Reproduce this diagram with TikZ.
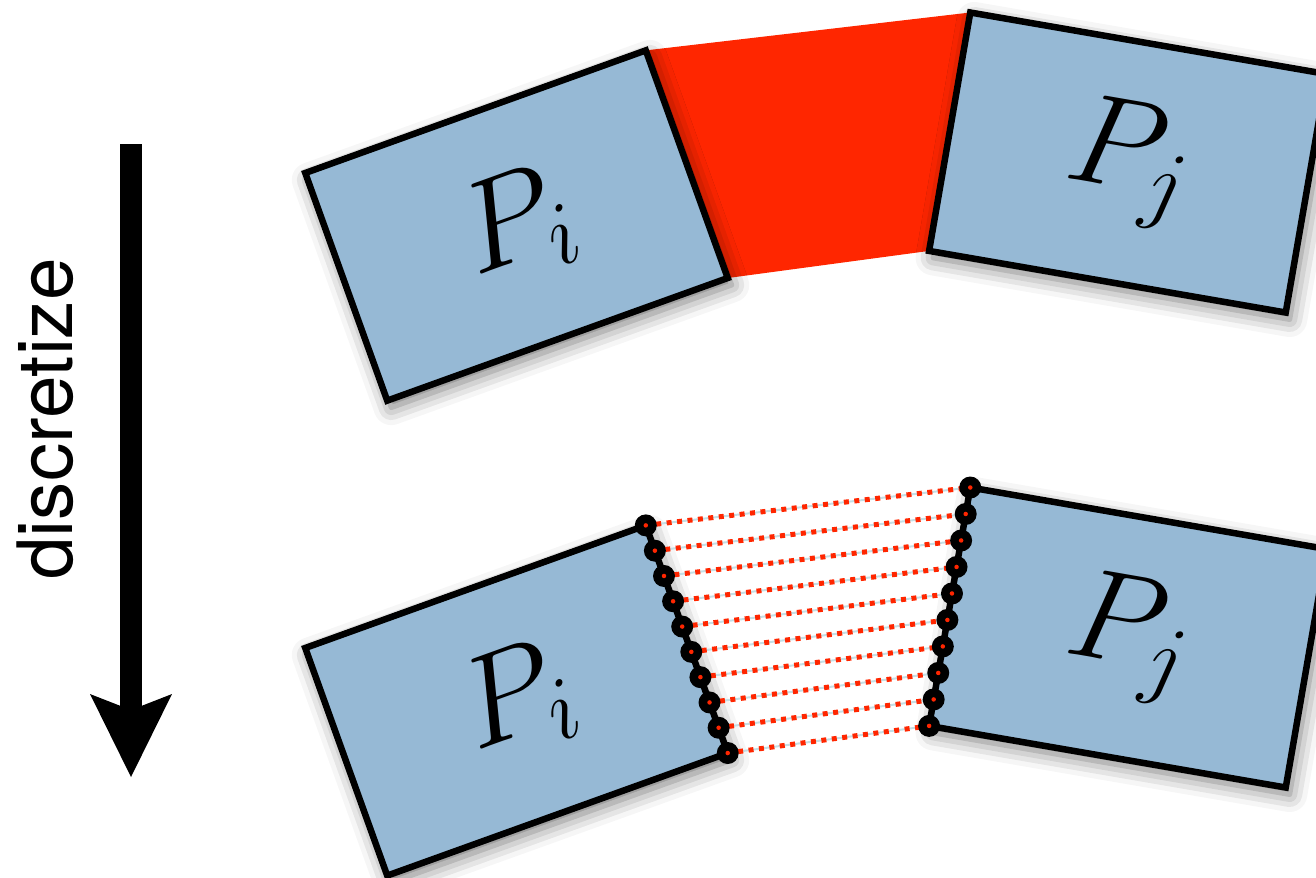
\documentclass[tikz,border=0pt]{standalone}
\usepackage{fix-cm}
\usepackage{fontspec}
\setsansfont{TeX Gyre Heros}
\usepackage{tikz}
\usetikzlibrary{positioning,arrows.meta,calc,backgrounds,shadows.blur}
\definecolor{patchblue}{RGB}{150,185,213}
\definecolor{gapred}{RGB}{255,38,0}
\definecolor{linkgray}{RGB}{196,222,228}

\begin{document}
\begin{tikzpicture}[x=0.02cm, y=-0.02cm,
  patch/.style={draw, line width=0.13cm, fill=patchblue, minimum width=7.24cm, minimum height=4.84cm,
    inner sep=0pt, outer sep=0pt, font=\fontsize{73}{80}\selectfont,
    blur shadow={shadow xshift=0.08cm, shadow yshift=-0.14cm, shadow blur radius=0.35cm, shadow opacity=55}},
  knot/.style={circle, fill=black, minimum size=0.44cm, inner sep=0pt},
  link/.style={gapred, line width=0.1cm, dash pattern=on 0.1cm off 0.11cm}]
  \useasboundingbox (0,0) rectangle (1316,877);
  \coordinate (dtail) at (131,144);
  \coordinate (dtip) at (131,777);
  \draw[line width=0.44cm, -{Stealth[length=1.66cm, width=1.64cm, inset=0.32cm, line width=0pt]}] (dtail) -- (dtip);
  \node[rotate=90, anchor=base, font=\sffamily\fontsize{43.5}{50}\selectfont] (disc) at (72,419) {discretize};
  \node[patch, rotate=19.8] (pi) at (516.5,225.5) {$P_i$};
  \node[patch, rotate=-9.8] (pj) at (1128,162.5) {$P_j$};
  \node[patch, rotate=19.8] (pib) at (516.5,700.5) {$P_i$};
  \node[patch, rotate=-9.8] (pjb) at (1128,637.5) {$P_j$};
  \foreach \k in {0,...,9} {
    \coordinate (l\k) at ($(pib.north east)!\k/9!(pib.south east)$);
    \coordinate (r\k) at ($(pjb.north west)!\k/9!(pjb.south west)$);
    \draw[linkgray, line width=0.04cm] (l\k) -- (r\k);
    \draw[link] (l\k) -- (r\k);
  }
  \foreach \k in {0,...,9} {
    \node[knot] (lk\k) at (l\k) {};
    \node[knot] (rk\k) at (r\k) {};
    \fill[gapred] (lk\k) circle (0.045cm) (rk\k) circle (0.045cm);
  }
  \begin{scope}[on background layer]
    \fill[gapred] (pi.north east) -- (pj.north west) -- (pj.south west) -- (pi.south east) -- cycle;
  \end{scope}
\end{tikzpicture}
\end{document}
